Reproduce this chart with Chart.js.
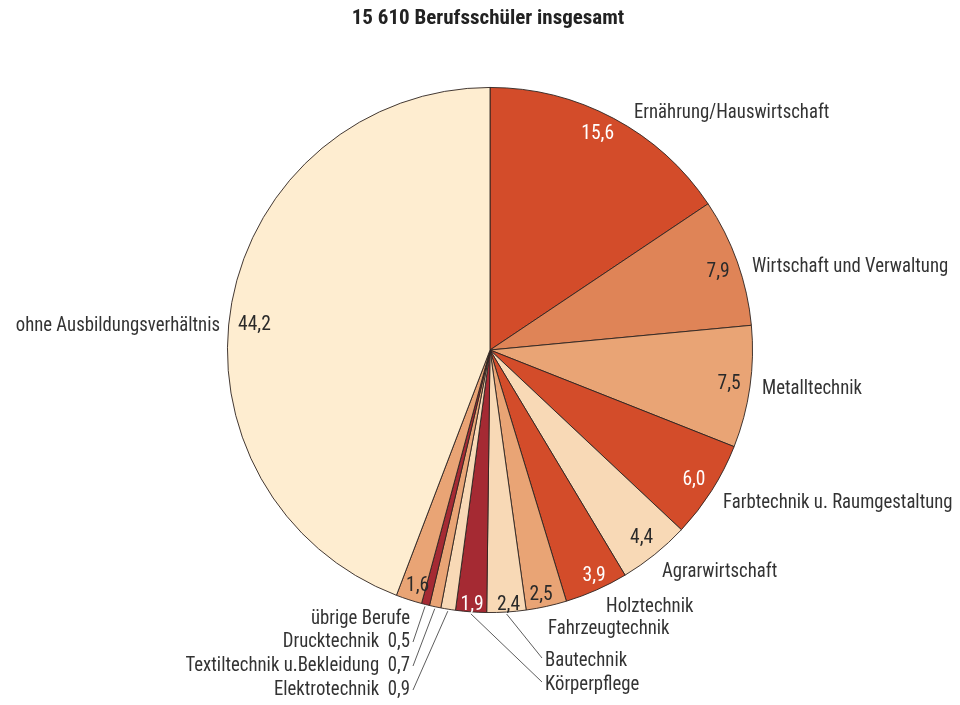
<!DOCTYPE html>
<html>
<head>
<meta charset="UTF-8" />
<title>Berufsschüler</title>
<script src="https://cdn.jsdelivr.net/npm/chart.js@4.4.1/dist/chart.umd.min.js"></script>
<style>
    body { margin: 0; background: white; }
    #wrap { position: relative; width: 960px; height: 705px; }
</style>
</head>
<body>
<div id="wrap"><canvas id="pie" width="960" height="705"></canvas></div>
<script>
    // Anteile in Prozent, im Uhrzeigersinn ab 12 Uhr
    var categories = ['Ernährung/Hauswirtschaft', 'Wirtschaft und Verwaltung', 'Metalltechnik',
        'Farbtechnik u. Raumgestaltung', 'Agrarwirtschaft', 'Holztechnik', 'Fahrzeugtechnik',
        'Bautechnik', 'Körperpflege', 'Elektrotechnik', 'Textiltechnik u.Bekleidung',
        'Drucktechnik', 'übrige Berufe', 'ohne Ausbildungsverhältnis'];
    var shares = [15.6, 7.9, 7.5, 6.0, 4.4, 3.9, 2.5, 2.4, 1.9, 0.9, 0.7, 0.5, 1.6, 44.2];
    var title = '15 610 Berufsschüler insgesamt';

    var DARK = '#d34c2a', MID = '#df8457', LIGHT = '#e9a475', PEACH = '#f8d9b6', CREAM = '#feedd0', RED = '#a52a33';
    var colors = [DARK, MID, LIGHT, DARK, PEACH, DARK, LIGHT, PEACH, RED, PEACH, LIGHT, RED, LIGHT, CREAM];
    var whiteValue = [true, false, false, true, false, true, false, false, true];

    var FONT = '"Roboto Condensed", "Liberation Sans Narrow", "DejaVu Sans Condensed", sans-serif';
    var SQUEEZE = 0.93;  // the original type is narrower than Roboto Condensed

    // where the names go: x, y, align; value in name for the tiny slices
    var nameLayout = [
        [634, 113, 'left'], [752, 267, 'left'], [762, 389, 'left'], [723, 503, 'left'],
        [662, 572, 'left'], [606, 607, 'left'], [548, 629, 'left'], [545, 661, 'left'],
        [545, 685, 'left'], [410, 690, 'right'], [410, 666, 'right'], [410, 642, 'right'],
        [410, 619, 'right'], [220, 326, 'right']
    ];
    // value labels: radius factor, dx, dy
    var valueLayout = [
        [0.92, -6, -3], [0.91, 3, 2], [0.92, 0, 0], [0.92, 0, 0], [0.92, 0, 0], [0.93, 5, 3],
        [0.94, -2, 4], [0.94, 3, 8], [0.94, 0, 9], null, null, null, [0.93, 3, 4], [0.92, 2, 19]
    ];
    // leader lines: end point
    var leaders = { 7: [542, 658], 8: [542, 682], 9: [413, 690], 10: [413, 666], 11: [413, 642] };

    function fmt(v) { return v.toFixed(1).replace('.', ','); }

    function squeezedText(ctx, txt, x, y, sx) {
        ctx.save();
        ctx.translate(x, y);
        ctx.scale(sx, 1);
        ctx.fillText(txt, 0, 0);
        ctx.restore();
    }

    var labelPlugin = {
        id: 'labels',
        afterDraw: function (chart) {
            var ctx = chart.ctx;
            var arcs = chart.getDatasetMeta(0).data;
            ctx.save();
            ctx.fillStyle = '#222';
            ctx.font = 'bold 21px ' + FONT;
            ctx.textAlign = 'center';
            ctx.textBaseline = 'middle';
            ctx.fillText(title, 488, 19);

            ctx.font = '21px ' + FONT;
            for (var i = 0; i < arcs.length; i++) {
                var a = arcs[i].getProps(['x', 'y', 'startAngle', 'endAngle', 'outerRadius'], true);
                var mid = (a.startAngle + a.endAngle) / 2;
                var vl = valueLayout[i];
                if (vl) {
                    ctx.fillStyle = whiteValue[i] ? '#ffffff' : '#2a2a2a';
                    ctx.textAlign = 'center';
                    squeezedText(ctx, fmt(shares[i]), a.x + Math.cos(mid) * a.outerRadius * vl[0] + vl[1],
                        a.y + Math.sin(mid) * a.outerRadius * vl[0] + vl[2], SQUEEZE);
                }
                var nl = nameLayout[i];
                ctx.fillStyle = '#333';
                ctx.textAlign = nl[2];
                var txt = categories[i];
                if (!vl) txt += '  ' + fmt(shares[i]);
                squeezedText(ctx, txt, nl[0], nl[1], SQUEEZE * 0.96);
                if (leaders[i]) {
                    ctx.strokeStyle = '#333';
                    ctx.lineWidth = 0.8;
                    ctx.beginPath();
                    ctx.moveTo(a.x + Math.cos(mid) * (a.outerRadius + 2), a.y + Math.sin(mid) * (a.outerRadius + 2));
                    ctx.lineTo(leaders[i][0], leaders[i][1]);
                    ctx.stroke();
                }
            }
            ctx.restore();
        }
    };

    new Chart(document.getElementById('pie'), {
        type: 'pie',
        data: {
            labels: categories,
            datasets: [{
                data: shares,
                backgroundColor: colors,
                borderColor: '#2e2420',
                borderWidth: 0.9
            }]
        },
        options: {
            responsive: false,
            animation: false,
            layout: { padding: { left: 227, right: 207, top: 87, bottom: 92 } },
            plugins: { legend: { display: false }, tooltip: { enabled: false } }
        },
        plugins: [labelPlugin]
    });
</script>
</body>
</html>
